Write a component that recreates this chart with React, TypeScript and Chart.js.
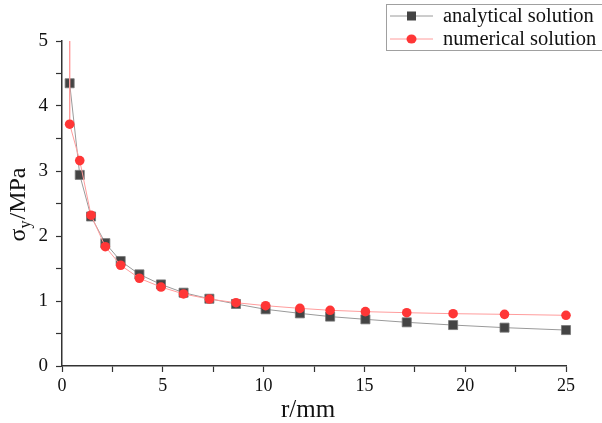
import React, { useEffect, useRef } from "react";
import { Chart, registerables } from "chart.js";
Chart.register(...registerables);

const rValues = [0.38, 0.88, 1.44, 2.15, 2.91, 3.84, 4.91, 6.03, 7.31, 8.63, 10.1, 11.8, 13.3, 15.05, 17.1, 19.4, 21.95, 25];
const analytical = [4.35, 2.94, 2.3, 1.89, 1.615, 1.41, 1.255, 1.128, 1.035, 0.954, 0.872, 0.81, 0.76, 0.718, 0.672, 0.63, 0.59, 0.553];
const numerical = [3.72, 3.16, 2.32, 1.835, 1.55, 1.35, 1.215, 1.108, 1.03, 0.974, 0.928, 0.887, 0.857, 0.836, 0.82, 0.805, 0.795, 0.78];
// where the numerical curve leaves the top of the plot (no marker)
const numericalTop = { x: 0.38, y: 5.0 };

const seriesNames = ["analytical solution", "numerical solution"];
const xTitle = "r/mm";
const yTitleMain = "σ";
const yTitleSub = "y";
const yTitleRest = "/MPa";

const FONT = "'Liberation Serif', 'Times New Roman', serif";
const GRAY_LINE = "#9a9a9a";
const GRAY_MARK = "#444444";
const RED_LINE = "#ff9c9c";
const RED_MARK = "#ff3636";

const overlayPlugin = {
  id: "overlay",
  afterDraw(chart: any) {
    const ctx = chart.ctx as CanvasRenderingContext2D;
    const area = chart.chartArea;
    ctx.save();
    // x title
    ctx.fillStyle = "#111";
    ctx.font = `25px ${FONT}`;
    ctx.textAlign = "center";
    ctx.textBaseline = "alphabetic";
    ctx.fillText(xTitle, (area.left + area.right) / 2 - 6, 417);

    // y title with subscript
    ctx.save();
    ctx.translate(25, 205);
    ctx.rotate(-Math.PI / 2);
    ctx.textAlign = "left";
    const mainFont = `24px ${FONT}`;
    const subFont = `16px ${FONT}`;
    ctx.font = mainFont;
    const w1 = ctx.measureText(yTitleMain).width;
    const w3 = ctx.measureText(yTitleRest).width;
    ctx.font = subFont;
    const w2 = ctx.measureText(yTitleSub).width;
    let x = -(w1 + w2 + w3) / 2;
    ctx.font = mainFont;
    ctx.fillText(yTitleMain, x, 0);
    x += w1;
    ctx.font = subFont;
    ctx.fillText(yTitleSub, x, 5);
    x += w2 + 1;
    ctx.font = mainFont;
    ctx.fillText(yTitleRest, x, 0);
    ctx.restore();

    // legend
    ctx.strokeStyle = "#a0a0a0";
    ctx.lineWidth = 1;
    ctx.strokeRect(386.5, 4.5, 230, 46);
    const rows = [
      { y: 16, line: GRAY_LINE, mark: GRAY_MARK, shape: "rect" },
      { y: 39, line: RED_LINE, mark: RED_MARK, shape: "circle" },
    ];
    rows.forEach((row, i) => {
      ctx.strokeStyle = row.line;
      ctx.lineWidth = 1;
      ctx.beginPath();
      ctx.moveTo(390, row.y);
      ctx.lineTo(433, row.y);
      ctx.stroke();
      ctx.fillStyle = row.mark;
      if (row.shape === "rect") {
        ctx.fillRect(407, row.y - 4.5, 9, 9);
      } else {
        ctx.beginPath();
        ctx.ellipse(411.5, row.y, 5, 4.6, 0, 0, Math.PI * 2);
        ctx.fill();
      }
      ctx.fillStyle = "#111";
      ctx.font = `20.5px ${FONT}`;
      ctx.textAlign = "left";
      ctx.textBaseline = "middle";
      ctx.fillText(seriesNames[i], 443, row.y + 1);
    });
    ctx.restore();
  },
};

export default function App() {
  const ref = useRef<HTMLCanvasElement | null>(null);
  useEffect(() => {
    document.body.style.margin = "0";
    if (!ref.current) return;
    const analyticalData = rValues.map((r, i) => ({ x: r, y: analytical[i] }));
    const numericalData = [numericalTop, ...rValues.map((r, i) => ({ x: r, y: numerical[i] }))];
    const chart = new Chart(ref.current, {
      type: "line",
      data: {
        datasets: [
          {
            label: seriesNames[0],
            data: analyticalData,
            borderColor: GRAY_LINE,
            borderWidth: 1,
            pointStyle: "rect",
            pointRadius: 6.4,
            pointBackgroundColor: GRAY_MARK,
            pointBorderColor: "#777",
            pointBorderWidth: 0.8,
            tension: 0,
            clip: 10,
            order: 1,
          },
          {
            label: seriesNames[1],
            data: numericalData,
            borderColor: RED_LINE,
            borderWidth: 1,
            pointStyle: "circle",
            pointRadius: numericalData.map((_, i) => (i === 0 ? 0 : 4.8)),
            pointBackgroundColor: RED_MARK,
            pointBorderColor: RED_MARK,
            pointBorderWidth: 0,
            tension: 0,
            clip: 10,
            order: 0,
          },
        ],
      },
      options: {
        animation: false,
        responsive: false,
        parsing: false,
        layout: { padding: { top: 41, right: 36, left: 0, bottom: 0 } },
        plugins: { legend: { display: false }, tooltip: { enabled: false } },
        scales: {
          x: {
            type: "linear",
            min: 0,
            max: 25,
            afterFit: (s: any) => {
              s.height = 57;
            },
            border: { display: true, color: "#333", width: 1.5 },
            grid: { display: true, drawOnChartArea: false, drawTicks: true, tickLength: 6, tickColor: "#333", tickWidth: 1.2 },
            ticks: {
              stepSize: 2.5,
              padding: 3,
              color: "#111",
              font: { family: FONT, size: 18 },
              maxRotation: 0,
              autoSkip: false,
              callback: (v: any) => (Number(v) % 5 === 0 ? String(v) : ""),
            },
          },
          y: {
            type: "linear",
            min: 0,
            max: 5,
            afterFit: (s: any) => {
              s.width = 62;
            },
            border: { display: true, color: "#333", width: 1.5 },
            grid: { display: true, drawOnChartArea: false, drawTicks: true, tickLength: 6, tickColor: "#333", tickWidth: 1.2 },
            ticks: {
              stepSize: 0.5,
              padding: 8,
              color: "#111",
              font: { family: FONT, size: 19 },
              autoSkip: false,
              callback: (v: any) => (Number(v) % 1 === 0 ? String(v) : ""),
            },
          },
        },
      },
      plugins: [overlayPlugin],
    });
    return () => chart.destroy();
  }, []);
  return (
    <div style={{ width: 602, height: 423, background: "#fff" }}>
      <canvas ref={ref} width={602} height={423} style={{ display: "block" }} />
    </div>
  );
}
